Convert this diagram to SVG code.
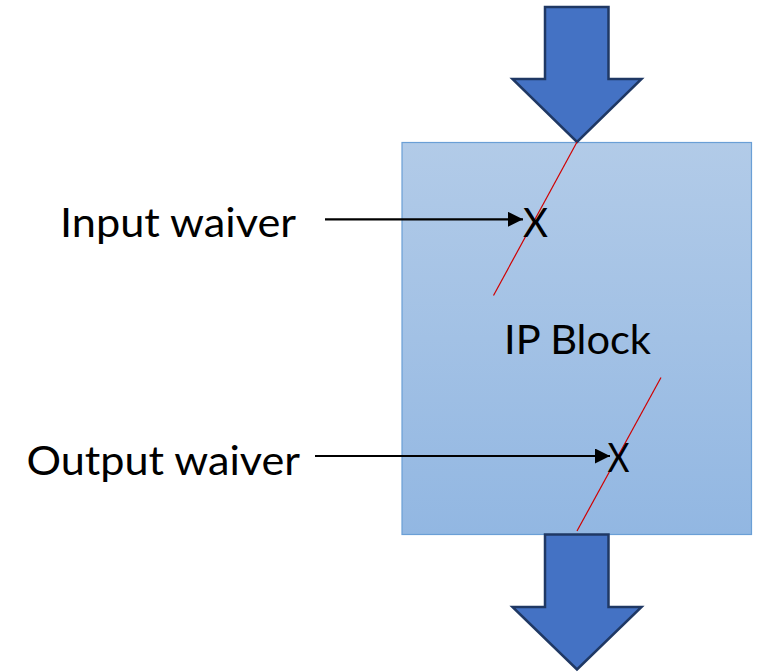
<svg xmlns="http://www.w3.org/2000/svg" width="760" height="672" viewBox="0 0 760 672">
<style>
.lbl{font-family:Lato,"Noto Sans","Liberation Sans",sans-serif;font-size:41px;fill:#000}
.big{fill:#4472C4;stroke:#1F3864;stroke-width:2.5;stroke-linejoin:miter}
.red{stroke:#D00000;stroke-width:1.2;fill:none}
.conn{stroke:#000;stroke-width:2.2;fill:none}
</style>
<defs>
<linearGradient id="g" x1="0" y1="0" x2="0" y2="1">
<stop offset="0" stop-color="#B2CBE8"/>
<stop offset="1" stop-color="#92B7E2"/>
</linearGradient>
<marker id="ah" markerWidth="15" markerHeight="15" refX="15" refY="7.5" orient="auto" markerUnits="userSpaceOnUse">
<path d="M0,0 L15,7.5 L0,15 Z" fill="#000"/>
</marker>
</defs>
<g id="ip-block">
<rect x="402" y="142.5" width="349.5" height="392" fill="url(#g)" stroke="#6A9FD6" stroke-width="1.2"/>
<text class="lbl" x="504" y="353.5" textLength="147" lengthAdjust="spacingAndGlyphs">IP Block</text>
</g>
<g id="input-arrow">
<path class="big" d="M545,7 L608.5,7 L608.5,79 L641.5,79 L577,142 L512.5,79 L545,79 Z"/>
</g>
<g id="output-arrow">
<path class="big" d="M545,534.5 L608.5,534.5 L608.5,607 L641.5,607 L577,669.5 L512.5,607 L545,607 Z"/>
</g>
<g id="input-waiver">
<line class="red" x1="577" y1="142" x2="493.5" y2="295.5"/>
<text class="lbl" x="535.5" y="236.7" text-anchor="middle" textLength="25" lengthAdjust="spacingAndGlyphs">X</text>
<text class="lbl" x="60" y="236.7" textLength="236" lengthAdjust="spacingAndGlyphs">Input waiver</text>
</g>
<g id="output-waiver">
<line class="red" x1="661" y1="377.5" x2="577" y2="531"/>
<text class="lbl" x="618.5" y="471.7" text-anchor="middle" textLength="22" lengthAdjust="spacingAndGlyphs">X</text>
<text class="lbl" x="26.5" y="475" textLength="273.5" lengthAdjust="spacingAndGlyphs">Output waiver</text>
</g>
<g id="connectors">
<line class="conn" x1="325" y1="219.3" x2="523" y2="219.3" marker-end="url(#ah)"/>
<line class="conn" x1="315" y1="456" x2="610" y2="456" marker-end="url(#ah)"/>
</g>
</svg>
